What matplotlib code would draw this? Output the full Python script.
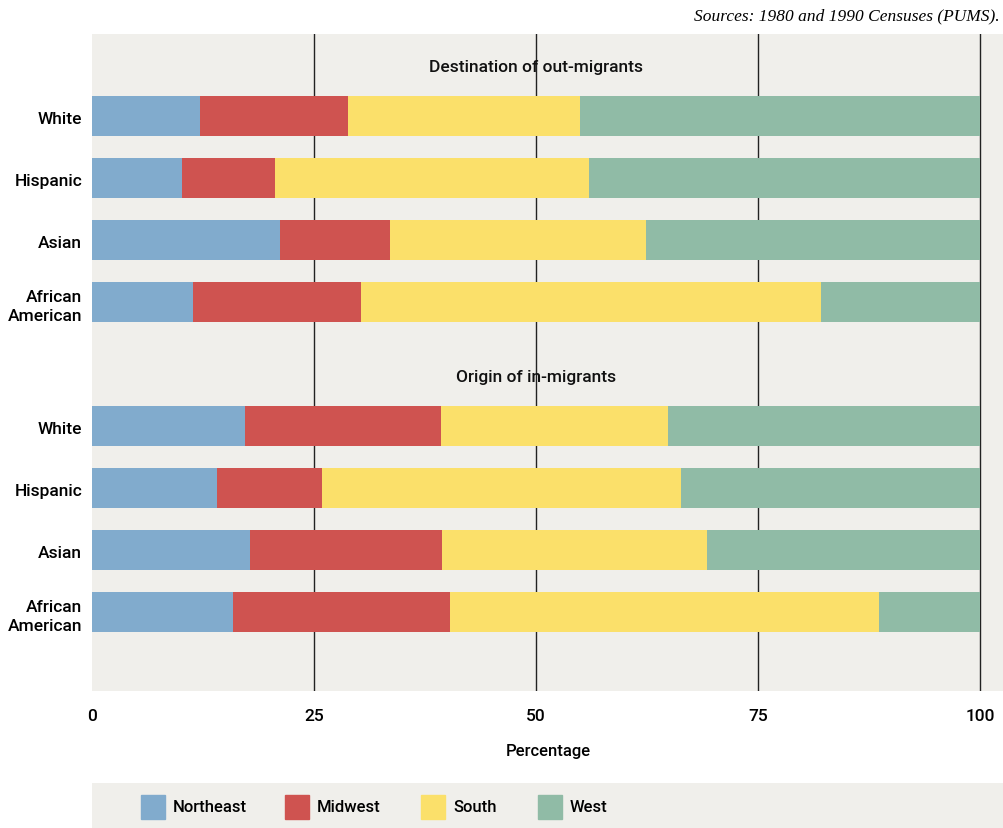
import matplotlib
matplotlib.use('Agg')
import matplotlib.pyplot as plt
from matplotlib.patches import Rectangle
import numpy as np

# Groups and regions
groups = ['White', 'Hispanic', 'Asian', 'African\nAmerican']
regions = ['Northeast', 'Midwest', 'South', 'West']
colors = ['#81abcd', '#cf5350', '#fbe06a', '#90bba6']

# Destination of out-migrants (percent)
out_northeast = [12.2, 10.1, 21.2, 11.4]
out_midwest = [16.6, 10.5, 12.4, 18.9]
out_south = [26.2, 35.4, 28.8, 51.8]
out_west = [45.0, 44.0, 37.6, 17.9]

# Origin of in-migrants (percent)
in_northeast = [17.2, 14.1, 17.8, 15.9]
in_midwest = [22.1, 11.8, 21.6, 24.4]
in_south = [25.6, 40.4, 29.9, 48.3]
in_west = [35.1, 33.7, 30.7, 11.4]

section_titles = ['Destination of out-migrants', 'Origin of in-migrants']
xticks = [0, 25, 50, 75, 100]
source_text = 'Sources: 1980 and 1990 Censuses (PUMS).'

bg = '#f0efeb'
plt.rcParams['font.family'] = ['Roboto', 'DejaVu Sans']

fig = plt.figure(figsize=(10.04, 8.29), dpi=100)
ax = fig.add_axes([92 / 1004, (829 - 692) / 829, 912 / 1004, (692 - 35) / 829])
ax.set_facecolor(bg)

# Vertical reference lines behind the bars
for t in xticks[1:]:
    ax.axvline(t, color='#222222', lw=1.0, zorder=1)

out_data = [out_northeast, out_midwest, out_south, out_west]
in_data = [in_northeast, in_midwest, in_south, in_west]
out_pos = np.arange(4)
in_pos = np.arange(4) + 5
bar_h = 0.645

for pos, data in [(out_pos, out_data), (in_pos, in_data)]:
    left = np.zeros(4)
    for vals, c in zip(data, colors):
        ax.barh(pos + 0.03, vals, left=left, height=bar_h, color=c, zorder=2, linewidth=0)
        left += np.array(vals)

# Section titles
ax.text(50, out_pos[0] - 0.76, section_titles[0], ha='center', va='center',
        fontsize=12.5, fontweight='medium', color='#111111')
ax.text(50, in_pos[0] - 0.76, section_titles[1], ha='center', va='center',
        fontsize=12.5, fontweight='medium', color='#111111')

ax.set_yticks(list(out_pos + 0.05) + list(in_pos + 0.05))
ax.set_yticklabels(groups + groups, fontsize=12.5, fontweight='medium',
                   linespacing=1.3)
ax.set_xticks(xticks)
ax.set_xticklabels([str(t) for t in xticks], fontsize=12.5, fontweight='medium')
ax.tick_params(length=0, pad=12)
ax.tick_params(axis='y', pad=7)
ax.set_xlim(0, 102.7)
ax.set_ylim(9.31, -1.29)
for s in ax.spines.values():
    s.set_visible(False)
ax.set_xlabel('Percentage', fontsize=12, fontweight='medium', labelpad=15)

fig.text(1000 / 1004, 1 - 16 / 829, source_text, ha='right', va='center',
         fontsize=12.5, style='italic', family=['Liberation Serif', 'DejaVu Serif'])

# Legend strip at the bottom
lax = fig.add_axes([92 / 1004, 0, 912 / 1004, 45 / 829])
lax.set_facecolor(bg)
lax.set_xlim(92, 1004)
lax.set_ylim(829, 784)
lax.axis('off')
lax.add_patch(Rectangle((92, 784), 912, 45, color=bg, zorder=0))
patch_x = [141, 285, 421, 538]
for x, c, name in zip(patch_x, colors, regions):
    lax.add_patch(Rectangle((x, 796), 24, 24, color=c, zorder=1))
    lax.text(x + 32, 808, name, ha='left', va='center', fontsize=12,
             fontweight='medium')

fig.savefig('out.png', dpi=100)
